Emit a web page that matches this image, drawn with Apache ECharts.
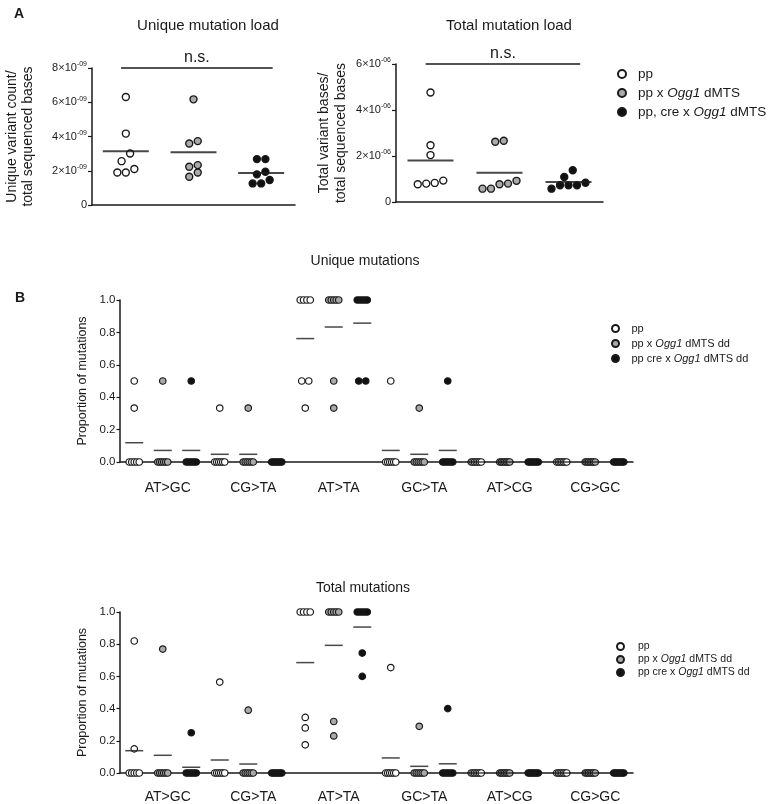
<!DOCTYPE html>
<html><head><meta charset="utf-8">
<script src="https://cdn.jsdelivr.net/npm/echarts@6/dist/echarts.min.js"></script>
<style>html,body{margin:0;padding:0;background:#fff}#c{width:779px;height:804px}</style>
</head><body><div id="c"></div>
<script>
// ---------- Panel A data ----------
const groupsA = ['pp', 'pp x Ogg1 dMTS', 'pp, cre x Ogg1 dMTS'];
const uniqueLoadPP  = [6.31e-9, 4.17e-9, 3.01e-9, 2.56e-9, 2.10e-9, 1.90e-9, 1.90e-9];
const uniqueLoadX   = [6.17e-9, 3.73e-9, 3.59e-9, 2.33e-9, 2.23e-9, 1.90e-9, 1.65e-9];
const uniqueLoadCre = [2.68e-9, 2.68e-9, 1.94e-9, 1.79e-9, 1.46e-9, 1.26e-9, 1.26e-9];
const totalLoadPP  = [4.76e-6, 2.47e-6, 2.04e-6, 0.93e-6, 0.83e-6, 0.80e-6, 0.77e-6];
const totalLoadX   = [2.66e-6, 2.62e-6, 0.92e-6, 0.80e-6, 0.77e-6, 0.58e-6, 0.58e-6];
const totalLoadCre = [1.38e-6, 1.09e-6, 0.84e-6, 0.73e-6, 0.73e-6, 0.73e-6, 0.58e-6];
const uniqueLoadAxis = {max: 8e-9, interval: 2e-9};
const totalLoadAxis = {max: 6e-6, interval: 2e-6};

// ---------- Panel B data ----------
const mutationTypes = ['AT>GC', 'CG>TA', 'AT>TA', 'GC>TA', 'AT>CG', 'CG>GC'];
const groupsB = ['pp', 'pp x Ogg1 dMTS dd', 'pp cre x Ogg1 dMTS dd'];
const Z7 = [0, 0, 0, 0, 0, 0, 0];
const uniquePP = [
  [0.5, 0.333, 0, 0, 0, 0, 0], [0.333, 0, 0, 0, 0, 0, 0],
  [1, 1, 1, 1, 0.5, 0.5, 0.333], [0.5, 0, 0, 0, 0, 0, 0], Z7, Z7];
const uniqueX = [
  [0.5, 0, 0, 0, 0, 0, 0], [0.333, 0, 0, 0, 0, 0, 0],
  [1, 1, 1, 1, 1, 0.5, 0.333], [0.333, 0, 0, 0, 0, 0, 0], Z7, Z7];
const uniqueCre = [
  [0.5, 0, 0, 0, 0, 0, 0], Z7,
  [1, 1, 1, 1, 1, 0.5, 0.5], [0.5, 0, 0, 0, 0, 0, 0], Z7, Z7];
const totalPP = [
  [0.82, 0.15, 0, 0, 0, 0, 0], [0.565, 0, 0, 0, 0, 0, 0],
  [1, 1, 1, 1, 0.345, 0.28, 0.175], [0.655, 0, 0, 0, 0, 0, 0], Z7, Z7];
const totalX = [
  [0.77, 0, 0, 0, 0, 0, 0], [0.39, 0, 0, 0, 0, 0, 0],
  [1, 1, 1, 1, 1, 0.32, 0.23], [0.29, 0, 0, 0, 0, 0, 0], Z7, Z7];
const totalCre = [
  [0.25, 0, 0, 0, 0, 0, 0], Z7,
  [1, 1, 1, 1, 1, 0.745, 0.6], [0.4, 0, 0, 0, 0, 0, 0], Z7, Z7];

// ---------- styling ----------
const FONT = '"Liberation Sans", Arial, Helvetica, sans-serif';
const INK = '#1a1a1a';
const FILLS = ['#ffffff', '#aaaaaa', '#111111'];

function mean(a) { return a.reduce((s, v) => s + v, 0) / a.length; }

// horizontal spreading of points that share (almost) the same value
function swarm(values, pxPerUnit, step, maxSpan, thresh) {
  const idx = values.map((v, i) => i).sort((a, b) => values[a] - values[b]);
  const off = new Array(values.length).fill(0);
  let row = [];
  const flush = () => {
    const n = row.length; if (!n) return;
    let s = step;
    if (n > 1 && (n - 1) * s > maxSpan) s = maxSpan / (n - 1);
    row.forEach((id, k) => { off[id] = (k - (n - 1) / 2) * s; });
    row = [];
  };
  idx.forEach(i => {
    if (row.length && (values[i] - values[row[0]]) * pxPerUnit > thresh) flush();
    row.push(i);
  });
  flush();
  return off;
}

function sciLabel(v) {
  if (Math.abs(v) < 1e-15) return '{b|0}';
  const e = Math.floor(Math.log10(Math.abs(v)) + 1e-9);
  const m = Math.round(v / Math.pow(10, e));
  const es = (e < 0 ? '-' : '') + String(Math.abs(e)).padStart(2, '0');
  return '{b|' + m + '×10}{s|' + es + '}';
}

const grids = [
  {left: 92, top: 68, width: 203, height: 137},
  {left: 396, top: 64, width: 207, height: 138},
  {left: 120, top: 300, width: 513, height: 162},
  {left: 120, top: 612, width: 513, height: 161}
];

const axisLine = {show: true, onZero: false, lineStyle: {color: INK, width: 1.5}};
function valX(grid, max) {
  return {type: 'value', gridIndex: grid, position: 'bottom', min: -0.5, max, axisLine,
    axisTick: {show: false}, axisLabel: {show: false}, splitLine: {show: false}};
}
function catX(grid, margin) {
  return {type: 'category', gridIndex: grid, position: 'bottom', data: mutationTypes, boundaryGap: true,
    axisLine: {show: false, onZero: false}, axisTick: {show: false}, splitLine: {show: false},
    axisLabel: {fontFamily: FONT, fontSize: 14, color: INK, margin, padding: [0, 0, 0, 10]}};
}
const xAxes = [valX(0, 2.5), valX(1, 2.5), valX(2, 17.5), catX(2, 19), valX(3, 17.5), catX(3, 17)];

const sciRich = {
  b: {fontFamily: FONT, fontSize: 11, color: INK, lineHeight: 14},
  s: {fontFamily: FONT, fontSize: 7, color: INK, verticalAlign: 'top', lineHeight: 14}
};
function loadYAxis(grid, ax, name, gap, lh) {
  return {type: 'value', gridIndex: grid, position: 'left', min: 0, max: ax.max, interval: ax.interval,
    axisLine, axisTick: {show: true, length: 4, lineStyle: {color: INK, width: 1.2}},
    splitLine: {show: false},
    axisLabel: {formatter: sciLabel, rich: sciRich, margin: 5},
    name, nameLocation: 'middle', nameRotate: 90, nameGap: gap,
    nameTextStyle: {fontFamily: FONT, fontSize: 14, color: INK, lineHeight: lh}};
}
function propYAxis(grid) {
  return {type: 'value', gridIndex: grid, position: 'left', min: 0, max: 1, interval: 0.2,
    axisLine, axisTick: {show: true, length: 3.5, lineStyle: {color: INK, width: 1.2}},
    splitLine: {show: false},
    axisLabel: {formatter: v => v.toFixed(1), fontFamily: FONT, fontSize: 11.5, color: INK, margin: 4.5},
    name: 'Proportion of mutations', nameLocation: 'middle', nameRotate: 90, nameGap: 25,
    nameTextStyle: {fontFamily: FONT, fontSize: 12.5, color: INK}};
}
const yAxes = [
  loadYAxis(0, uniqueLoadAxis, 'Unique variant count/\ntotal sequenced bases', 56, 16),
  loadYAxis(1, totalLoadAxis, 'Total variant bases/\ntotal sequenced bases', 46, 17),
  propYAxis(2),
  propYAxis(3)
];

const series = [];
function nsLine(maxV) {
  return {symbol: 'none', silent: true,
    lineStyle: {color: INK, width: 1.5, type: 'solid'},
    label: {show: true, position: 'middle', formatter: 'n.s.', fontFamily: FONT, fontSize: 16, color: INK, distance: 2},
    data: [[{coord: [-0.07, maxV]}, {coord: [2.17, maxV]}]]};
}
function addPanelA(axisIdx, groupVals, ax, pxPerUnit) {
  groupVals.forEach((vals, g) => {
    const off = swarm(vals, pxPerUnit, 8.5, 60, 8);
    const s = {
      type: 'scatter', name: groupsA[g], xAxisIndex: axisIdx, yAxisIndex: axisIdx, z: 2,
      symbol: 'circle', symbolSize: 7,
      itemStyle: {color: FILLS[g], borderColor: INK, borderWidth: 1.4, opacity: 1},
      data: vals.map((v, i) => ({value: [g, v], symbolOffset: [off[i], 0]}))
    };
    if (g === 0) s.markLine = nsLine(ax.max);
    series.push(s);
  });
  series.push({type: 'scatter', name: 'mean', xAxisIndex: axisIdx, yAxisIndex: axisIdx, z: 3,
    symbol: 'rect', symbolSize: [46, 2], itemStyle: {color: INK},
    data: groupVals.map((vals, g) => [g, mean(vals)])});
}
addPanelA(0, [uniqueLoadPP, uniqueLoadX, uniqueLoadCre], uniqueLoadAxis, 137 / 8e-9);
addPanelA(1, [totalLoadPP, totalLoadX, totalLoadCre], totalLoadAxis, 138 / 6e-6);

function addPanelB(xIdx, yIdx, groupData) {
  const means = [];
  groupData.forEach((byType, g) => {
    const data = [];
    byType.forEach((vals, t) => {
      const x = t * 3 + g;
      const off = swarm(vals, 161, 7, 10, 5);
      vals.forEach((v, i) => data.push({value: [x, v], symbolOffset: [off[i], 0]}));
      means.push([x, mean(vals)]);
    });
    series.push({type: 'scatter', name: groupsB[g], xAxisIndex: xIdx, yAxisIndex: yIdx, z: 2,
      symbol: 'circle', symbolSize: 6.5,
      itemStyle: {color: FILLS[g], borderColor: INK, borderWidth: 1.2, opacity: 1}, data});
  });
  series.push({type: 'scatter', name: 'mean', xAxisIndex: xIdx, yAxisIndex: yIdx, z: 3,
    symbol: 'rect', symbolSize: [18, 1.5], itemStyle: {color: INK}, data: means});
}
addPanelB(2, 2, [uniquePP, uniqueX, uniqueCre]);
addPanelB(4, 3, [totalPP, totalX, totalCre]);

function legend(data, left, top, fs, gap, ih, iw) {
  return {data, orient: 'vertical', left, top, itemWidth: iw || 22, itemHeight: ih, itemGap: gap,
    selectedMode: false, icon: 'circle',
    formatter: n => n.replace('Ogg1', '{i|Ogg1}'),
    textStyle: {fontFamily: FONT, fontSize: fs, color: INK,
      rich: {i: {fontFamily: FONT, fontSize: fs, color: INK, fontStyle: 'italic'}}}};
}

function ttl(text, left, top, fs, bold, align) {
  return {text, left, top, textAlign: align || 'center',
    textStyle: {fontFamily: FONT, fontSize: fs, color: INK, fontWeight: bold ? 'bold' : 'normal'}};
}

const chart = echarts.init(document.getElementById('c'), null, {renderer: 'canvas'});
chart.setOption({
  backgroundColor: '#ffffff',
  animation: false,
  title: [
    ttl('A', 9, 2, 14, true, 'left'),
    ttl('Unique mutation load', 203, 13, 15),
    ttl('Total mutation load', 504, 13, 15),
    ttl('B', 10, 286, 14, true, 'left'),
    ttl('Unique mutations', 360, 249, 14),
    ttl('Total mutations', 358, 576, 14)
  ],
  legend: [
    legend(groupsA, 612, 62, 13.5, 5, 8),
    legend(groupsB, 606, 318, 11, 4, 7),
    legend(groupsB, 611, 636, 10.5, 2, 7, 25)
  ],
  grid: grids,
  xAxis: xAxes,
  yAxis: yAxes,
  series
});
</script>
</body></html>
